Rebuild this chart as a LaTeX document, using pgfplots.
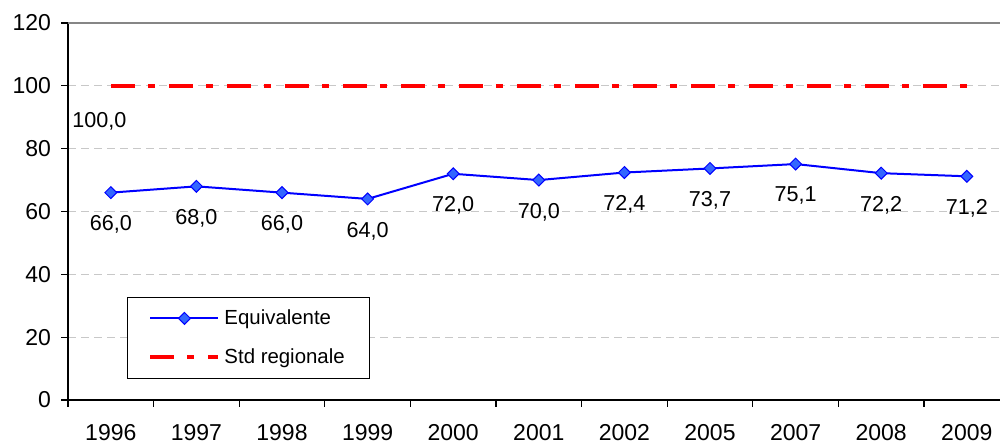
\documentclass[border=0pt]{standalone}
\usepackage{fontspec}
\setmainfont{Liberation Sans}
\usepackage{pgfplots}
\usepackage{pgfplotstable}
\pgfplotsset{compat=1.18}
\definecolor{mkfill}{RGB}{51,102,255}
\definecolor{gridc}{RGB}{200,200,200}
\definecolor{topc}{RGB}{134,134,134}
\newcommand\tickfont{\fontsize{11.5}{13}\selectfont}
\newcommand\labfont{\fontsize{10.8}{12}\selectfont}
\newcommand\legfont{\fontsize{10.2}{12}\selectfont}

\pgfplotstableread{
x y
0 66.0
1 68.0
2 66.0
3 64.0
4 72.0
5 70.0
6 72.4
7 73.7
8 75.1
9 72.2
10 71.2
}\equival

\pgfplotstableread{
x y
0 100
1 100
2 100
3 100
4 100
5 100
6 100
7 100
8 100
9 100
10 100
}\stdreg

\begin{document}
\begin{tikzpicture}
\begin{axis}[
 scale only axis, width=466pt, height=188.5pt,
 xmin=-0.5, xmax=10.388, ymin=0, ymax=120,
 axis lines=left, axis line style={-, line width=1pt, black},
 /pgf/number format/assume math mode=true,
 tick align=outside, major tick length=3.5pt,
 tick style={black, line width=0.6pt},
 ytick={0,20,...,120},
 yticklabel style={font=\tickfont, xshift=-1.5pt},
 xtick={-0.5,0.5,...,9.5}, xticklabels={},
 extra x ticks={0,1,...,10},
 extra x tick labels={1996,1997,1998,1999,2000,2001,2002,2005,2007,2008,2009},
 extra x tick style={major tick length=0pt,
   xticklabel style={font=\tickfont, yshift=-8.5pt}},
 ymajorgrids, major grid style={gridc, line width=0.5pt, dash pattern=on 4pt off 2.5pt},
 legend style={at={(0.0633,0.2732)}, anchor=north west, draw=black,
   line width=0.5pt, font=\legfont, inner xsep=10.5pt, inner ysep=4pt,
   row sep=6.5pt, legend cell align=left},
 legend image code/.code={\draw[mark repeat=2,mark phase=2,#1]
   plot coordinates {(0pt,0pt) (17pt,0pt) (34pt,0pt)};},
]
\coordinate (sw) at (rel axis cs:0,0);
\coordinate (ne) at (rel axis cs:1,1);
\addplot[blue, line width=1pt, mark=square*, mark size=2.1pt,
  mark options={rotate=45, solid, fill=mkfill, draw=blue, line width=0.5pt},
  point meta=y,
  nodes near coords={\pgfmathprintnumber[fixed,fixed zerofill,precision=1,use comma]{\pgfplotspointmeta}},
  nodes near coords style={anchor=north, yshift=-11.25pt, inner sep=0pt, font=\labfont, black}]
  table[x=x,y=y] {\equival};
\addlegendentry{Equivalente}
\addplot[red, line width=2pt, line cap=butt,
  dash pattern=on 12pt off 6.5pt on 3.5pt off 7pt]
  table[x=x,y=y] {\stdreg};
\addlegendentry{Std regionale}
\draw[topc, line width=1pt] (rel axis cs:0,1) -- (rel axis cs:1,1);
\node[anchor=north, inner sep=0pt, font=\labfont, xshift=-5.75pt, yshift=-13pt]
  at (axis cs:0,100) {100,0};
\end{axis}
\pgfresetboundingbox
\path ([shift={(-34pt,-21.5pt)}]sw) rectangle ([shift={(0pt,11.5pt)}]ne);
\end{tikzpicture}
\end{document}
